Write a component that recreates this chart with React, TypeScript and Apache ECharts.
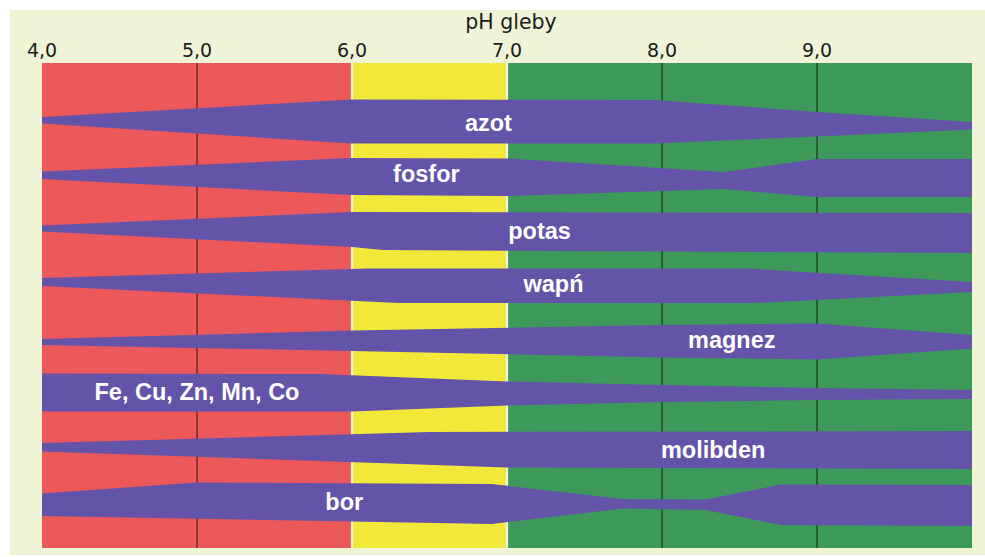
import React, { useEffect, useRef } from "react";
import * as echarts from "echarts";

// ---------- data ----------
const PH_MIN = 4;
const PH_MAX = 10;
const DEPTH = 485; // hidden vertical scale (band extents are read on it)

const tickValues = [4, 5, 6, 7, 8, 9];
const tickLabels = ["4,0", "5,0", "6,0", "7,0", "8,0", "9,0"];
const axisTitle = "pH gleby";

// soil reaction zones (pH ranges)
const zoneStart = [4, 6, 7];
const zoneEnd = [6, 7, 10];

const darkLinesAt = [5, 8, 9];
const lightLinesAt = [6, 7];

const nutrients = ["azot", "fosfor", "potas", "wapń", "magnez", "Fe, Cu, Zn, Mn, Co", "molibden", "bor"];

// band edges: [pH, value on hidden vertical scale]
const azotTop = [[4.0, 54], [6.0, 36.5], [7.95, 37], [9.0, 49], [10.0, 59]];
const azotBottom = [[4.0, 60.5], [6.0, 80.5], [7.95, 80.5], [9.0, 73.5], [10.0, 66.5]];

const fosforTop = [[4.0, 108.5], [6.0, 95], [7.0, 95.5], [8.4, 109], [9.0, 96], [10.0, 96]];
const fosforBottom = [[4.0, 116], [6.0, 132], [7.0, 133], [8.4, 126], [9.0, 134], [10.0, 134]];

const potasTop = [[4.0, 162.5], [6.0, 149], [10.0, 150]];
const potasBottom = [[4.0, 168.5], [6.0, 184], [6.2, 187], [10.0, 190]];

const wapnTop = [[4.0, 215], [6.1, 205.5], [8.55, 205.5], [10.0, 219]];
const wapnBottom = [[4.0, 223], [6.3, 240], [8.6, 240], [10.0, 229]];

const magnezTop = [[4.0, 276], [6.0, 267.5], [8.0, 262], [9.0, 260.5], [10.0, 272]];
const magnezBottom = [[4.0, 282], [6.0, 288], [8.0, 294.5], [9.0, 296.5], [10.0, 285.5]];

const metalsTop = [[4.0, 310.5], [5.8, 311], [7.0, 318.5], [8.0, 322], [9.0, 325], [10.0, 327]];
const metalsBottom = [[4.0, 348.5], [6.0, 348.5], [7.0, 342.5], [8.0, 339], [9.0, 337], [10.0, 336]];

const molibdenTop = [[4.0, 380], [6.5, 369], [10.0, 368]];
const molibdenBottom = [[4.0, 388.5], [7.0, 404.5], [10.0, 406]];

const borTop = [[4.0, 430.5], [5.0, 419.5], [6.9, 421], [7.75, 436], [8.28, 436.5], [8.77, 421.5], [10.0, 422]];
const borBottom = [[4.0, 453], [6.9, 461], [7.75, 445.5], [8.28, 447], [8.77, 462], [10.0, 463]];

const bandTops = [azotTop, fosforTop, potasTop, wapnTop, magnezTop, metalsTop, molibdenTop, borTop];
const bandBottoms = [azotBottom, fosforBottom, potasBottom, wapnBottom, magnezBottom, metalsBottom, molibdenBottom, borBottom];

// label anchors: [pH, vertical value]
const labelAnchors = [[6.88, 59.5], [6.48, 111], [7.21, 168], [7.3, 221], [8.45, 277], [5.0, 328.5], [8.33, 387], [5.95, 439]];

// ---------- styles ----------
const ZONE_COLORS = ["#ed585b", "#f2e83a", "#3d9a5b"];
const BAND_COLOR = "#6353a9";
const PAPER = "#eff4d6";

export default function App() {
  const ref = useRef<HTMLDivElement | null>(null);

  useEffect(() => {
    if (!ref.current) return;
    const chart = echarts.init(ref.current, undefined, { renderer: "svg" });

    const option: any = {
      animation: false,
      backgroundColor: "#ffffff",
      graphic: [
        {
          type: "rect",
          z: -10,
          silent: true,
          shape: { x: 10, y: 10, width: 975, height: 545 },
          style: { fill: PAPER },
        },
      ],
      grid: { left: 42, right: 13, top: 63, bottom: 9, containLabel: false },
      xAxis: {
        type: "value",
        position: "top",
        min: PH_MIN,
        max: PH_MAX,
        interval: 1,
        axisLine: { show: false },
        axisTick: { show: false },
        splitLine: { show: false },
        axisLabel: {
          showMaxLabel: false,
          margin: 4,
          fontFamily: "DejaVu Sans",
          fontSize: 19,
          color: "#1b1b1b",
          formatter: (v: number) => {
            const i = tickValues.indexOf(v);
            return i >= 0 ? tickLabels[i] : "";
          },
        },
        name: axisTitle,
        nameLocation: "middle",
        nameGap: 31,
        nameTextStyle: {
          fontFamily: "DejaVu Sans",
          fontSize: 20.5,
          color: "#1b1b1b",
          padding: [0, 0, 0, 8],
        },
      },
      yAxis: { type: "value", inverse: true, min: 0, max: DEPTH, show: false },
      series: [
        {
          type: "custom",
          z: 1,
          silent: true,
          data: zoneStart.map((s, i) => [s, zoneEnd[i], i]),
          renderItem: (_p: any, api: any) => {
            const a = api.coord([api.value(0), 0]);
            const b = api.coord([api.value(1), DEPTH]);
            return {
              type: "rect",
              shape: { x: a[0], y: a[1], width: b[0] - a[0], height: b[1] - a[1] },
              style: { fill: ZONE_COLORS[api.value(2)] },
            };
          },
        },
        {
          type: "custom",
          z: 2,
          silent: true,
          data: darkLinesAt.map((v) => [v, 0]).concat(lightLinesAt.map((v) => [v, 1])),
          renderItem: (_p: any, api: any) => {
            const a = api.coord([api.value(0), 0]);
            const b = api.coord([api.value(0), DEPTH]);
            const light = api.value(1) === 1;
            return {
              type: "line",
              shape: { x1: a[0], y1: a[1], x2: b[0], y2: b[1] },
              style: light
                ? { stroke: "#f6f2dc", lineWidth: 2.2 }
                : { stroke: "rgba(20,10,10,0.72)", lineWidth: 1.2 },
            };
          },
        },
        {
          type: "custom",
          z: 3,
          silent: true,
          data: nutrients.map((_n, i) => [i]),
          renderItem: (_p: any, api: any) => {
            const i = api.value(0);
            const top = bandTops[i].map((p) => api.coord(p));
            const bottom = bandBottoms[i].slice().reverse().map((p) => api.coord(p));
            const lab = api.coord(labelAnchors[i]);
            return {
              type: "group",
              children: [
                {
                  type: "polygon",
                  shape: { points: top.concat(bottom) },
                  style: { fill: BAND_COLOR },
                },
                {
                  type: "text",
                  style: {
                    text: nutrients[i],
                    x: lab[0],
                    y: lab[1],
                    fill: "#ffffff",
                    fontFamily: "Liberation Sans, Arial, sans-serif",
                    fontWeight: "bold",
                    fontSize: 23.5,
                    align: "center",
                    verticalAlign: "middle",
                  },
                },
              ],
            };
          },
        },
      ],
    };

    chart.setOption(option);
    return () => chart.dispose();
  }, []);

  return (
    <div
      ref={ref}
      style={{ position: "fixed", left: 0, top: 0, width: 985, height: 557 }}
    />
  );
}
